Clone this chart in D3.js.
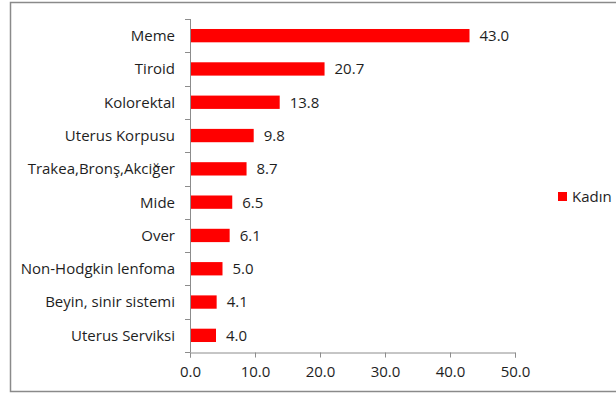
<!DOCTYPE html>
<html>
<head>
<meta charset="utf-8">
<script src="https://cdn.jsdelivr.net/npm/d3@7"></script>
<style>
  html, body { margin: 0; padding: 0; background: #fff; }
  svg text { font-family: "Open Sans", Lato, sans-serif; fill: #1e1e1e; }
</style>
</head>
<body>
<svg id="chart" width="616" height="394"></svg>
<script>
// Cancer incidence by site (women)
const categories = ["Meme", "Tiroid", "Kolorektal", "Uterus Korpusu", "Trakea,Bronş,Akciğer",
  "Mide", "Over", "Non-Hodgkin lenfoma", "Beyin, sinir sistemi", "Uterus Serviksi"];
const values = [43.0, 20.7, 13.8, 9.8, 8.7, 6.5, 6.1, 5.0, 4.1, 4.0];
const xTicks = [0, 10, 20, 30, 40, 50];
const seriesName = "Kadın";

const svg = d3.select("#chart");
const barColor = "#ff0000";
const axisColor = "#8c8c8c";
const fontSize = 15;

// outer frame
svg.append("rect")
  .attr("x", 10.5).attr("y", 2.5)
  .attr("width", 620).attr("height", 389)
  .attr("fill", "#fff")
  .attr("stroke", "#8a8a8a")
  .attr("stroke-width", 1.5);

const plotLeft = 190, plotRight = 515, plotTop = 19, plotBottom = 352;

const x = d3.scaleLinear().domain([0, 50]).range([plotLeft, plotRight]);
const y = d3.scaleBand().domain(categories).range([plotTop, plotBottom]).paddingInner(0.6).paddingOuter(0.3);

// bars
svg.append("g").selectAll("rect")
  .data(categories)
  .join("rect")
  .attr("x", x(0))
  .attr("y", d => y(d))
  .attr("width", (d, i) => x(values[i]) - x(0))
  .attr("height", y.bandwidth())
  .attr("fill", barColor);

// value labels
svg.append("g").selectAll("text")
  .data(categories)
  .join("text")
  .attr("x", (d, i) => x(values[i]) + 10)
  .attr("y", d => y(d) + y.bandwidth() / 2)
  .attr("dy", "0.36em")
  .attr("font-size", fontSize)
  .text((d, i) => values[i].toFixed(1));

// vertical category axis with separators between bands
const step = (plotBottom - plotTop) / categories.length;
const yAxis = svg.append("g");
yAxis.append("line")
  .attr("x1", plotLeft + 0.5).attr("x2", plotLeft + 0.5)
  .attr("y1", plotTop).attr("y2", plotBottom)
  .attr("stroke", axisColor);
yAxis.selectAll("line.sep")
  .data(d3.range(categories.length + 1))
  .join("line")
  .attr("class", "sep")
  .attr("x1", plotLeft - 5).attr("x2", plotLeft + 0.5)
  .attr("y1", i => Math.round(plotTop + i * step) + 0.5)
  .attr("y2", i => Math.round(plotTop + i * step) + 0.5)
  .attr("stroke", axisColor);
yAxis.selectAll("text")
  .data(categories)
  .join("text")
  .attr("x", plotLeft - 15)
  .attr("y", d => y(d) + y.bandwidth() / 2)
  .attr("dy", "0.36em")
  .attr("text-anchor", "end")
  .attr("font-size", fontSize)
  .text(d => d);

// horizontal value axis
const xAxis = svg.append("g")
  .attr("transform", `translate(0,${plotBottom + 0.5})`)
  .call(d3.axisBottom(x).tickValues(xTicks).tickSize(5).tickPadding(9).tickFormat(d3.format(".1f")));
xAxis.select(".domain").attr("stroke", axisColor);
xAxis.selectAll(".tick line").attr("stroke", axisColor);
xAxis.selectAll(".tick text").attr("font-size", fontSize).attr("font-family", "'Open Sans', Lato, sans-serif").attr("fill", "#1e1e1e");

// legend
const lg = svg.append("g").attr("transform", "translate(558,192)");
lg.append("rect").attr("width", 9).attr("height", 9).attr("fill", barColor);
lg.append("text").attr("x", 14).attr("y", 4.5).attr("dy", "0.36em").attr("font-size", fontSize).text(seriesName);
</script>
</body>
</html>
